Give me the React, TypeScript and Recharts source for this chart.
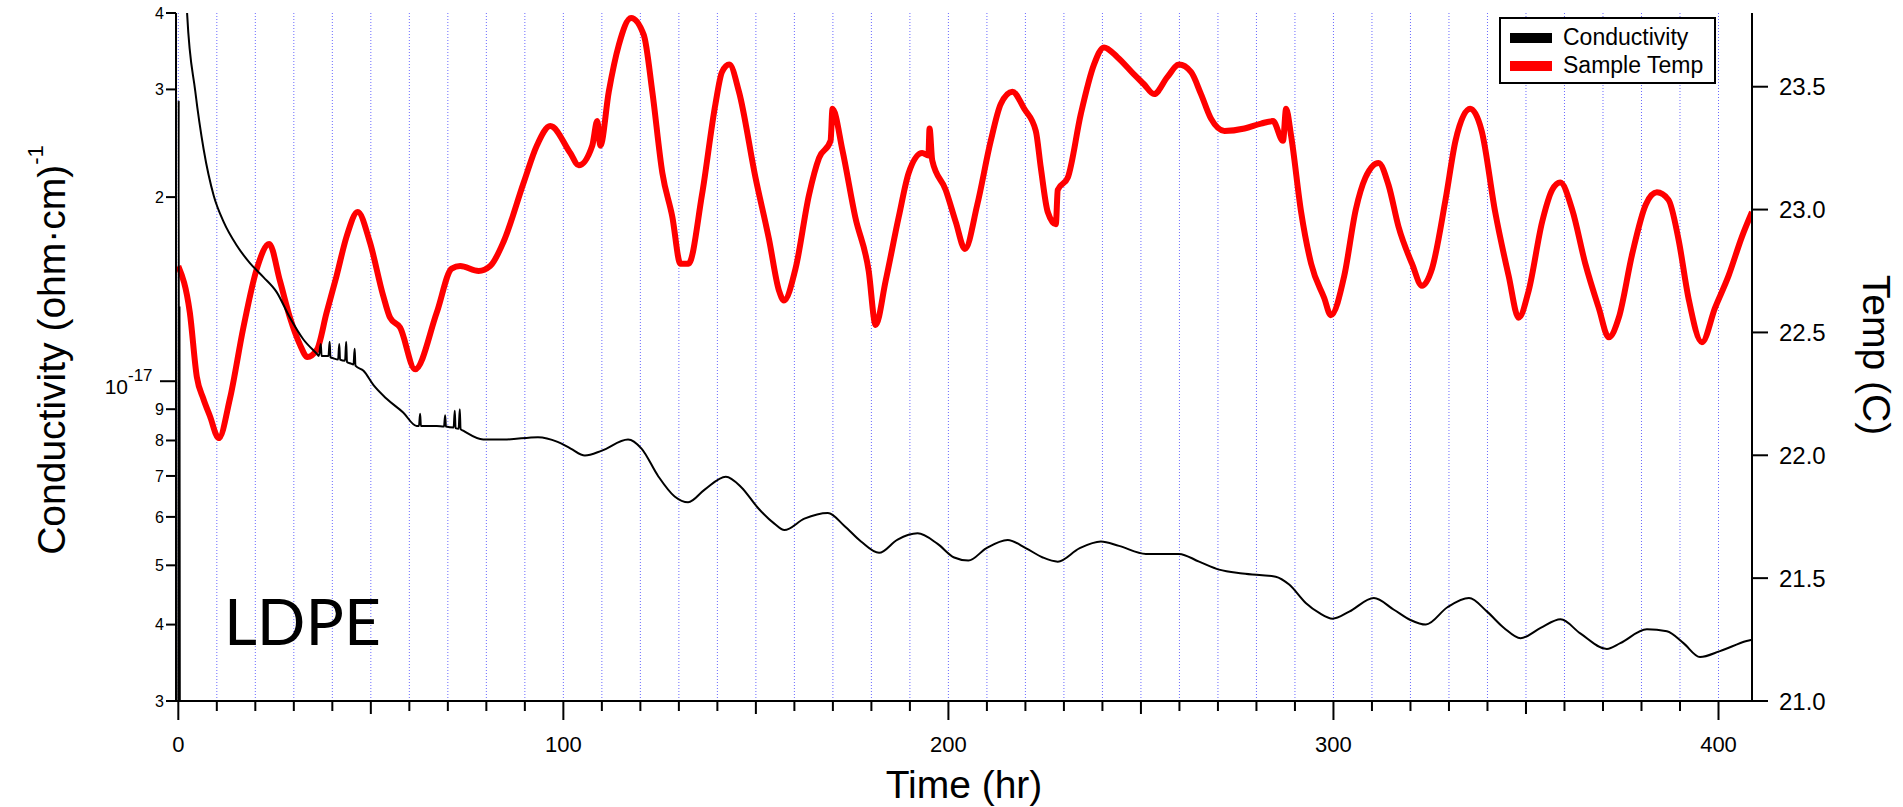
import React from 'react';
import { LineChart, Line, XAxis, YAxis, CartesianGrid, Legend } from 'recharts';

// Sample temperature (°C) vs time (hr)
const tempTime = [
  0, 3.0, 4.8, 6.5, 8.2, 10.5, 13.4, 16.9, 20.4, 23.6, 26.4, 29.0, 31.6, 33.5, 36.0, 38.5, 41.1, 43.7, 46.6,
  49.7, 53.2, 55.0, 57.6, 61.5, 67.1, 71.0, 73.2, 78.0, 81.0, 84.5, 89.7, 93.1, 96.6, 101.8, 104.0, 107.5,
  108.8, 109.6, 111.8, 114.4, 117.6, 120.9, 123.1, 125.7, 128.3, 130.4, 132.5, 136.0, 139.5, 141.2, 143.1,
  145.6, 149.9, 153.4, 156.0, 157.3, 160.3, 163.8, 166.4, 169.4, 169.9, 172.5, 175.8, 179.3, 181.1, 183.7,
  187.1, 189.7, 193.2, 194.8, 195.1, 195.8, 199.3, 201.9, 204.3, 207.5, 211.0, 213.6, 216.6, 219.7, 222.7,
  224.0, 225.8, 227.9, 228.4, 231.0, 234.4, 237.8, 240.4, 243.9, 248.2, 250.8, 253.4, 256.9, 259.9, 263.0,
  265.6, 268.2, 271.7, 276.9, 281.2, 284.3, 286.9, 287.7, 289.0, 291.6, 294.2, 297.6, 299.3, 302.8, 305.8,
  308.3, 311.7, 314.3, 316.9, 320.4, 323.0, 325.6, 329.1, 331.7, 335.5, 338.5, 342.0, 345.5, 348.1, 350.7,
  354.2, 356.8, 358.9, 362.0, 365.4, 368.9, 371.5, 374.1, 377.6, 381.1, 384.0, 387.0, 389.6, 392.2, 395.7,
  399.1, 402.6, 406.1, 408.7,
];
const tempValue = [
  22.77, 22.58, 22.32, 22.23, 22.16, 22.07, 22.23, 22.52, 22.76, 22.86, 22.71, 22.56, 22.45, 22.40, 22.43, 22.58, 22.73, 22.89, 22.99,
  22.87, 22.65, 22.56, 22.52, 22.35, 22.58, 22.76, 22.77, 22.75, 22.77, 22.87, 23.11, 23.26, 23.34, 23.23, 23.18, 23.26,
  23.36, 23.26, 23.48, 23.67, 23.78, 23.71, 23.48, 23.15, 22.97, 22.78, 22.78, 23.06, 23.43, 23.56, 23.59,
  23.48, 23.13, 22.88, 22.67, 22.63, 22.76, 23.06, 23.21, 23.28, 23.41, 23.24, 22.97, 22.75, 22.53, 22.71,
  22.97, 23.15, 23.23, 23.22, 23.33, 23.20, 23.08, 22.95, 22.84, 23.02, 23.28, 23.43, 23.48, 23.41, 23.32,
  23.17, 22.99, 22.94, 23.08, 23.13, 23.39, 23.59, 23.66, 23.62, 23.55, 23.51, 23.47, 23.54, 23.59, 23.56,
  23.47, 23.37, 23.32, 23.33, 23.35, 23.36, 23.28, 23.41, 23.30, 22.99, 22.78, 22.64, 22.57, 22.73, 23.00,
  23.13, 23.19, 23.10, 22.93, 22.78, 22.69, 22.76, 23.04, 23.28, 23.41, 23.32, 22.99, 22.73, 22.56, 22.67,
  22.95, 23.08, 23.11, 23.00, 22.78, 22.60, 22.48, 22.56, 22.82, 23.02, 23.07, 23.04, 22.88, 22.64, 22.46,
  22.60, 22.73, 22.89, 22.99,
];

// Conductivity, in units of 1e-18 (ohm·cm)^-1 ; null = gap in the record
const condTime = [
  0, 0.1, 0.2, 0.3, 0.4, 1.0,
  1.6, 2.3, 4.4, 6.6, 9.2, 11.8, 15.1, 18.6, 22.1, 25.5, 29.0, 32.5, 35.9,
  36.5, 37.0, 37.2, 39.0, 39.3, 39.5, 40.3, 41.5, 41.8, 42.0, 43.3, 43.6, 43.8, 44.6, 45.5, 45.8, 46.0,
  48.1, 50.7, 54.1, 58.4, 61.9, 62.5, 62.8, 63.0, 67.1, 69.0, 69.3, 69.5, 71.5, 71.8, 72.0, 72.8, 73.1, 73.3,
  74.0, 79.2, 84.7, 93.4, 98.5, 101.9, 105.6, 110.0, 116.8, 120.3, 124.6, 128.9, 132.4, 136.7, 142.2, 146.2,
  150.5, 154.8, 157.4, 162.6, 168.7, 173.0, 177.3, 182.0, 186.8, 192.0, 197.2, 201.5, 205.2, 209.8, 215.4,
  220.2, 224.5, 228.4, 234.0, 239.6, 244.3, 251.3, 259.9, 265.1, 270.3, 276.4, 285.0, 288.5, 292.8, 296.3,
  299.8, 304.1, 310.5, 315.7, 320.0, 324.0, 329.6, 335.2, 339.9, 344.3, 348.6, 353.8, 359.0, 364.1, 371.0,
  374.5, 381.4, 386.6, 390.9, 395.2, 400.4, 407.3, 408.7,
];
const condValue: (number | null)[] = [
  2.5, 28.8, 2.5, 13.2, 2.5, null,
  60, 39.8, 29.8, 23.9, 20.1, 18.2, 16.7, 15.6, 14.8, 14.0, 12.7, 11.7, 11.1,
  11.0, 11.5, 11.0, 11.0, 11.6, 10.95, 10.9, 10.85, 11.5, 10.85, 10.8, 11.6, 10.75, 10.7, 10.65, 11.3, 10.6,
  10.4, 9.85, 9.36, 8.89, 8.45, 8.45, 8.85, 8.45, 8.45, 8.43, 8.8, 8.43, 8.4, 8.95, 8.38, 8.36, 9.0, 8.35,
  8.3, 8.03, 8.03, 8.1, 7.96, 7.76, 7.56, 7.70, 8.03, 7.76, 7.0, 6.48, 6.34, 6.65, 6.98, 6.71,
  6.21, 5.85, 5.71, 5.96, 6.09, 5.80, 5.47, 5.24, 5.51, 5.64, 5.42, 5.15, 5.09, 5.33, 5.50,
  5.33, 5.15, 5.07, 5.33, 5.47, 5.38, 5.22, 5.22, 5.07, 4.92, 4.85, 4.79, 4.65, 4.34, 4.18,
  4.09, 4.20, 4.42, 4.23, 4.07, 4.00, 4.27, 4.42, 4.20, 3.95, 3.80, 3.95, 4.08, 3.87, 3.65,
  3.73, 3.93, 3.90, 3.73, 3.54, 3.62, 3.76, 3.78,
];

const xTicks = [
  0, 10, 20, 30, 40, 50, 60, 70, 80, 90, 100, 110, 120, 130, 140, 150, 160, 170, 180, 190, 200,
  210, 220, 230, 240, 250, 260, 270, 280, 290, 300, 310, 320, 330, 340, 350, 360, 370, 380, 390, 400,
];
const xLabelTicks = [0, 100, 200, 300, 400];
const condTicks = [3, 4, 5, 6, 7, 8, 9, 10, 20, 30, 40];
const tempTicks = [21.0, 21.5, 22.0, 22.5, 23.0, 23.5];

const tempData = tempTime.map((t, i) => ({ t, v: tempValue[i] }));
const condData = condTime.map((t, i) => ({ t, v: condValue[i] }));

const FONT = "'Liberation Sans', Arial, sans-serif";

const XTick = (props: any) => {
  const { x, y, payload } = props;
  const v = payload.value;
  const len = v % 100 === 0 ? 19 : v % 50 === 0 ? 13 : 10;
  return (
    <g>
      <line x1={x} x2={x} y1={y} y2={y + len} stroke="#000" strokeWidth={2} />
      {xLabelTicks.includes(v) && (
        <text x={x} y={y + 51} textAnchor="middle" fontSize={22} fontFamily={FONT} fill="#000">
          {v}
        </text>
      )}
    </g>
  );
};

const CondTick = (props: any) => {
  const { x, y, payload } = props;
  const v = payload.value;
  if (v === 10) {
    return (
      <g>
        <line x1={x - 16} x2={x} y1={y} y2={y} stroke="#000" strokeWidth={2} />
        <text x={x - 48} y={y + 13} textAnchor="end" fontSize={21} fontFamily={FONT} fill="#000">10</text>
        <text x={x - 48} y={y} textAnchor="start" fontSize={17} fontFamily={FONT} fill="#000">-17</text>
      </g>
    );
  }
  const label = v < 10 ? String(v) : String(v / 10);
  return (
    <g>
      <line x1={x - 10} x2={x} y1={y} y2={y} stroke="#000" strokeWidth={2} />
      <text x={x - 12} y={y} dy="0.36em" textAnchor="end" fontSize={16} fontFamily={FONT} fill="#000">
        {label}
      </text>
    </g>
  );
};

const TempTick = (props: any) => {
  const { x, y, payload } = props;
  return (
    <g>
      <line x1={x} x2={x + 16} y1={y} y2={y} stroke="#000" strokeWidth={2} />
      <text x={x + 27} y={y} dy="0.36em" textAnchor="start" fontSize={24} fontFamily={FONT} fill="#000">
        {payload.value.toFixed(1)}
      </text>
    </g>
  );
};

const XTitle = () => (
  <g>
    <text x={964} y={798} textAnchor="middle" fontSize={39} fontFamily={FONT} fill="#000">Time (hr)</text>
    <text x={224} y={645} fontSize={64} fontFamily="Lato, 'Open Sans', sans-serif" fill="#000">LDPE</text>
  </g>
);

const LeftTitle = () => (
  <text
    x={65}
    y={350}
    transform="rotate(-90, 65, 350)"
    textAnchor="middle"
    fontSize={39}
    fontFamily={FONT}
    fill="#000"
  >
    Conductivity (ohm·cm)
    <tspan fontSize={22} dy={-22}>-1</tspan>
  </text>
);

const RightTitle = () => (
  <text
    x={1863}
    y={355}
    transform="rotate(90, 1863, 355)"
    textAnchor="middle"
    fontSize={39}
    fontFamily={FONT}
    fill="#000"
  >
    Temp (C)
  </text>
);

const renderLegend = () => (
  <svg width={217} height={67} style={{ display: 'block' }}>
    <rect x={1} y={1} width={215} height={65} fill="#fff" stroke="#000" strokeWidth={2} />
    <line x1={11} x2={53} y1={21} y2={21} stroke="#000" strokeWidth={10} />
    <line x1={11} x2={53} y1={49} y2={49} stroke="#ff0000" strokeWidth={10} />
    <text x={64} y={28} fontSize={23} fontFamily={FONT} fill="#000">Conductivity</text>
    <text x={64} y={56} fontSize={23} fontFamily={FONT} fill="#000">Sample Temp</text>
  </svg>
);

export default function App() {
  return (
    <div style={{ position: 'absolute', left: 0, top: 0, background: '#fff' }}>
      <LineChart width={1903} height={807} margin={{ top: 13, right: 51, bottom: 46, left: 0 }}>
        <CartesianGrid horizontal={false} stroke="#6a6aff" strokeDasharray="1 2" strokeWidth={1} />
        <XAxis
          type="number"
          dataKey="t"
          xAxisId={0}
          domain={[-0.6, 408.7]}
          allowDataOverflow
          ticks={xTicks}
          interval={0}
          height={60}
          tickSize={0}
          tickMargin={0}
          tickLine={false}
          tick={<XTick />}
          axisLine={{ stroke: '#000', strokeWidth: 2 }}
          label={<XTitle />}
        />
        <YAxis
          yAxisId="cond"
          orientation="left"
          scale="log"
          domain={[3, 40]}
          allowDataOverflow
          ticks={condTicks}
          interval={0}
          width={176}
          tickSize={0}
          tickMargin={0}
          tickLine={false}
          tick={<CondTick />}
          axisLine={{ stroke: '#000', strokeWidth: 2 }}
          label={<LeftTitle />}
        />
        <YAxis
          yAxisId="temp"
          orientation="right"
          domain={[21.0, 23.8]}
          allowDataOverflow
          ticks={tempTicks}
          interval={0}
          width={100}
          tickSize={0}
          tickMargin={0}
          tickLine={false}
          tick={<TempTick />}
          axisLine={{ stroke: '#000', strokeWidth: 2 }}
          label={<RightTitle />}
        />
        <Legend
          layout="vertical"
          align="center"
          verticalAlign="middle"
          content={renderLegend}
          wrapperStyle={{ position: 'absolute', left: 1499, top: 17, width: 217, height: 67 }}
        />
        <Line
          yAxisId="temp"
          data={tempData}
          dataKey="v"
          type="monotone"
          stroke="#ff0000"
          strokeWidth={6}
          strokeLinejoin="round"
          dot={false}
          activeDot={false}
          isAnimationActive={false}
        />
        <Line
          yAxisId="cond"
          data={condData}
          dataKey="v"
          type="monotone"
          stroke="#000"
          strokeWidth={2}
          dot={false}
          activeDot={false}
          connectNulls={false}
          isAnimationActive={false}
        />
      </LineChart>
    </div>
  );
}
